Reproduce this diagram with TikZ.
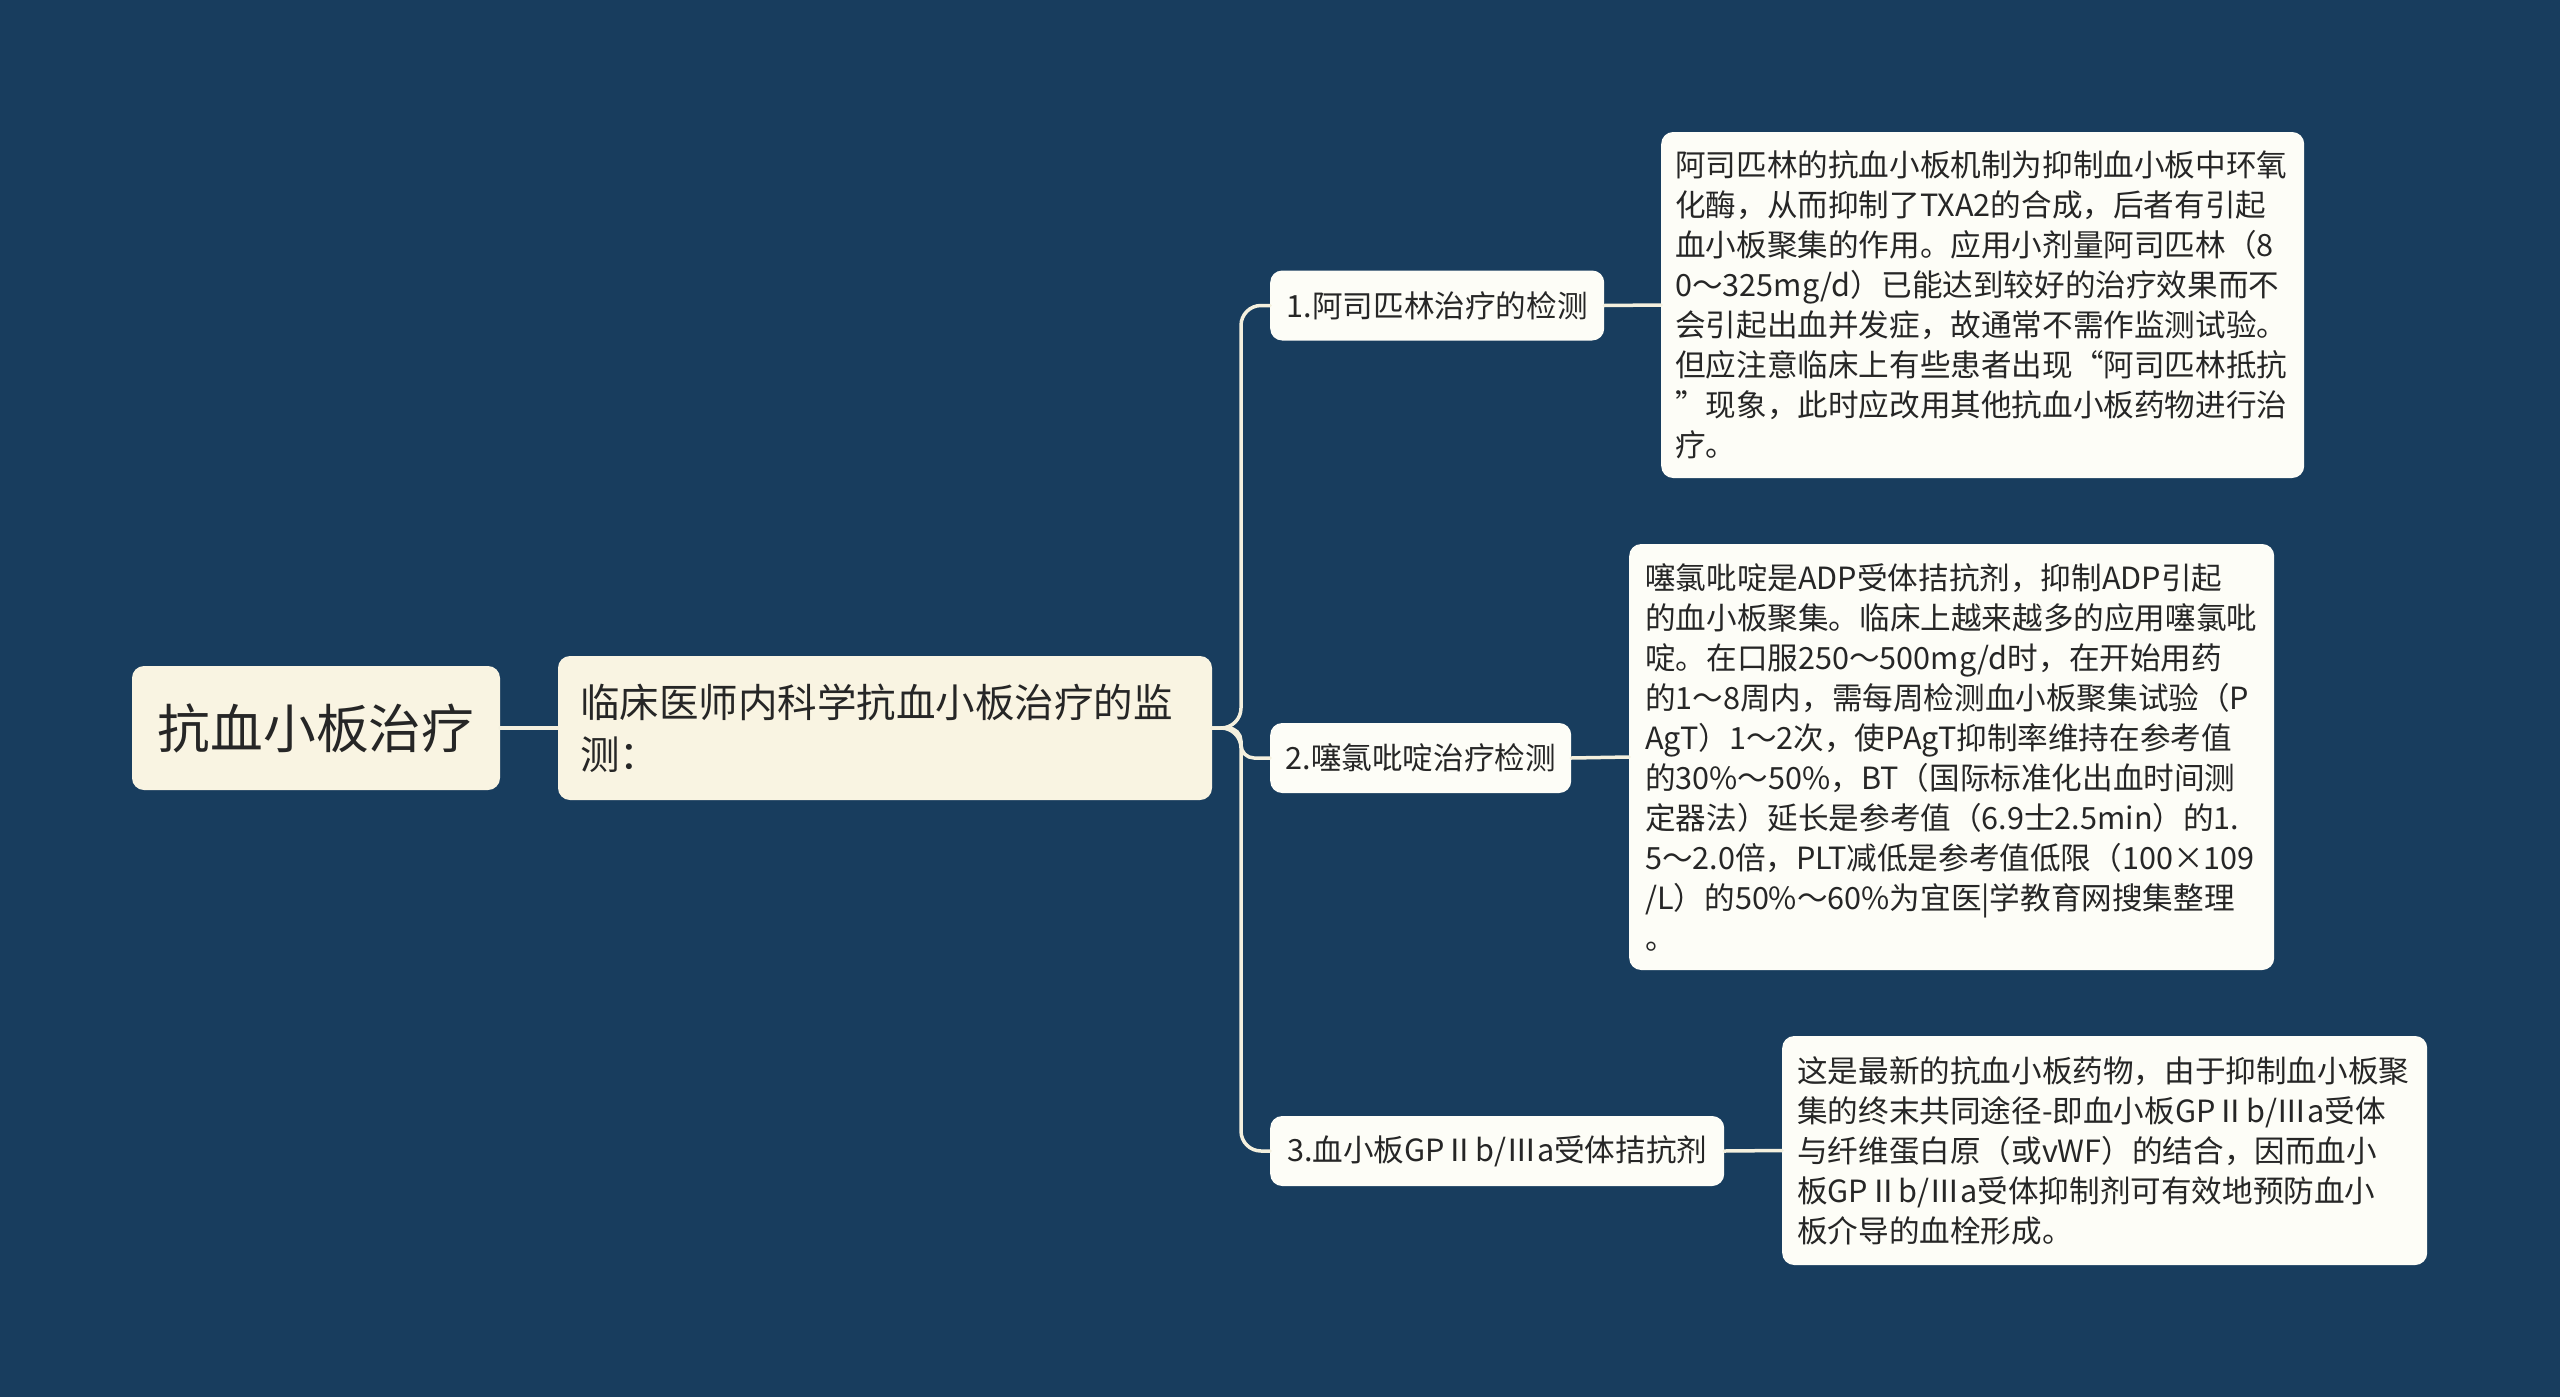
\documentclass[tikz,border=0pt]{standalone}
\usepackage{fontspec}
\setmainfont{Noto Sans CJK SC}
\newcommand\fwroman[1]{{\addfontfeatures{RawFeature=+fwid}#1}}
\definecolor{bg}{RGB}{24,61,94}
\definecolor{cream}{RGB}{249,244,226}
\definecolor{leaffill}{RGB}{253,253,247}
\definecolor{linec}{RGB}{244,240,222}
\definecolor{txt}{RGB}{38,38,38}
\begin{document}
\begin{tikzpicture}[x=1pt,y=-1pt,
  box/.style={rounded corners=12, inner ysep=0pt, text=txt},
  rootbox/.style={box, fill=cream, minimum width=368, minimum height=124, inner xsep=0pt, font=\fontsize{52.7}{60}\selectfont},
  subbox/.style={box, fill=cream, text width=610, inner xsep=22, minimum height=144, align=left, font=\fontsize{39.5}{52}\selectfont},
  catbox/.style={box, fill=leaffill, anchor=west, minimum height=70, inner xsep=0pt, font=\fontsize{30.6}{40}\selectfont},
  leaf/.style={box, fill=leaffill, anchor=west, align=left, font=\fontsize{30.6}{40}\selectfont},
  conn/.style={draw=linec, line width=3.5, line cap=round}
]
\fill[bg] (0,0) rectangle (2560,1397);
\useasboundingbox (0,0) rectangle (2560,1397);

\node[rootbox] (root) at (316,728) {抗血小板治疗};
\node[subbox] (n2) at (885,728) {临床医师内科学抗血小板治疗的监\\测：};

\node[catbox, minimum width=334] (c1) at (1270,305.5) {1.阿司匹林治疗的检测};
\node[catbox, minimum width=301] (c2) at (1270,758) {2.噻氯吡啶治疗检测};
\node[catbox, minimum width=454] (c3) at (1270,1151) {3.血小板GPⅡb/Ⅲa受体拮抗剂};

\node[leaf, text width=615, inner xsep=14, minimum height=346] (l1) at (1661,305) {阿司匹林的抗血小板机制为抑制血小板中环氧\\化酶，从而抑制了TXA2的合成，后者有引起\\血小板聚集的作用。应用小剂量阿司匹林（8\\0～325mg/d）已能达到较好的治疗效果而不\\会引起出血并发症，故通常不需作监测试验。\\但应注意临床上有些患者出现“阿司匹林抵抗\\”现象，此时应改用其他抗血小板药物进行治\\疗。};

\node[leaf, text width=613, inner xsep=16, minimum height=426] (l2) at (1629,757) {噻氯吡啶是ADP受体拮抗剂，抑制ADP引起\\的血小板聚集。临床上越来越多的应用噻氯吡\\啶。在口服250～500mg/d时，在开始用药\\的1～8周内，需每周检测血小板聚集试验（P\\AgT）1～2次，使PAgT抑制率维持在参考值\\的30\%～50\%，BT（国际标准化出血时间测\\定器法）延长是参考值（6.9士2.5min）的1.\\5～2.0倍，PLT减低是参考值低限（100×109\\/L）的50\%～60\%为宜医|学教育网搜集整理\\。};

\node[leaf, text width=615, inner xsep=15, minimum height=229] (l3) at (1782,1150.5) {这是最新的抗血小板药物，由于抑制血小板聚\\集的终末共同途径-即血小板GP\fwroman{Ⅱ}b/Ⅲa受体\\与纤维蛋白原（或vWF）的结合，因而血小\\板GP\fwroman{Ⅱ}b/Ⅲa受体抑制剂可有效地预防血小\\板介导的血栓形成。};

\coordinate (j) at (1241,728);

\draw[conn] (root.east) -- (n2.west);
\draw[conn, rounded corners=20] (n2.east) -- (j) |- (c1.west);
\draw[conn, rounded corners=13] (n2.east) -- (j) |- (c2.west);
\draw[conn, rounded corners=20] (n2.east) -- (j) |- (c3.west);
\draw[conn] (c1.east) -- (l1.west);
\draw[conn] (c2.east) -- (l2.west);
\draw[conn] (c3.east) -- (l3.west);
\end{tikzpicture}
\end{document}
